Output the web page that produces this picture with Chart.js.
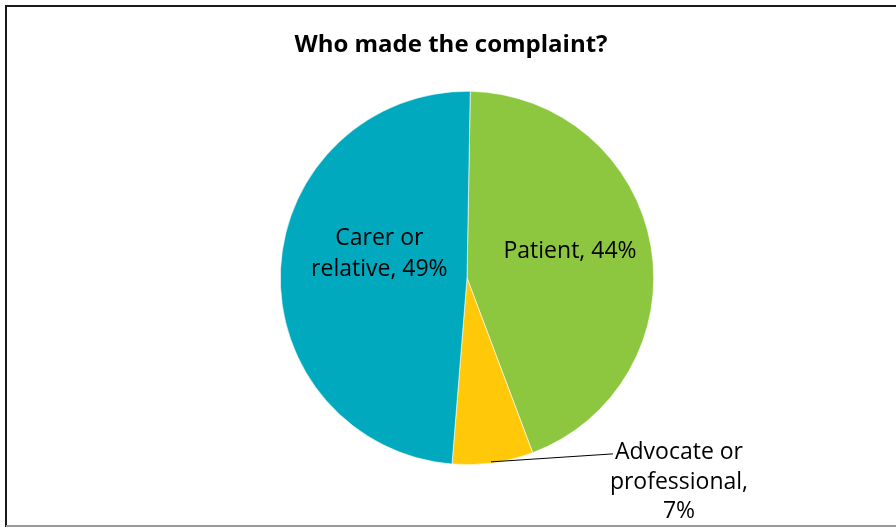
<!DOCTYPE html>
<html>
<head>
<meta charset="utf-8">
<script src="https://cdn.jsdelivr.net/npm/chart.js@4.4.0/dist/chart.umd.min.js"></script>
<style>
    html, body { margin: 0; padding: 0; background: #ffffff; }
    #wrap { width: 896px; height: 528px; position: relative; }
</style>
</head>
<body>
<div id="wrap"><canvas id="graficoQuejas"></canvas></div>
<script>
const categorias = ['Patient', 'Advocate or professional', 'Carer or relative'];
const porcentajes = [44, 7, 49];
const colores = ['#8DC63F', '#FFC808', '#00A9BD'];
const titulo = 'Who made the complaint?';

// Marco y título dibujados a mano
const marcoPlugin = {
    id: 'marco',
    beforeDraw(chart) {
        const ctx = chart.ctx;
        ctx.save();
        ctx.fillStyle = '#ffffff';
        ctx.fillRect(0, 0, chart.width, chart.height);
        ctx.strokeStyle = '#1a1a1a';
        ctx.lineWidth = 2;
        ctx.beginPath();
        ctx.moveTo(6, 527);
        ctx.lineTo(6, 6);
        ctx.lineTo(896, 6);
        ctx.stroke();
        ctx.strokeStyle = '#9a9a9a';
        ctx.lineWidth = 2;
        ctx.beginPath();
        ctx.moveTo(6, 526);
        ctx.lineTo(896, 526);
        ctx.stroke();
        ctx.fillStyle = '#000000';
        ctx.font = 'bold 24px "Open Sans", sans-serif';
        ctx.textAlign = 'center';
        ctx.textBaseline = 'middle';
        ctx.fillText(titulo, 451, 45);
        ctx.restore();
    }
};

// Etiquetas de cada porción
const etiquetasPlugin = {
    id: 'etiquetas',
    afterDatasetsDraw(chart) {
        const ctx = chart.ctx;
        const arcos = chart.getDatasetMeta(0).data;
        ctx.save();
        ctx.fillStyle = '#000000';
        ctx.font = '23px "Open Sans", sans-serif';
        ctx.textAlign = 'center';
        ctx.textBaseline = 'middle';

        arcos.forEach((arco, i) => {
            const { x, y, startAngle, endAngle, outerRadius } = arco.getProps(['x', 'y', 'startAngle', 'endAngle', 'outerRadius'], true);
            const medio = (startAngle + endAngle) / 2;
            const texto = `${porcentajes[i]}%`;
            if (i === 0) {
                const px = x + Math.cos(medio) * outerRadius * 0.56;
                const py = y + Math.sin(medio) * outerRadius * 0.56;
                ctx.fillText(`${categorias[i]}, ${texto}`, px, py - 9);
            } else if (i === 2) {
                const px = x + Math.cos(medio) * outerRadius * 0.47;
                const py = y + Math.sin(medio) * outerRadius * 0.47;
                ctx.fillText('Carer or', px, py - 35);
                ctx.fillText(`relative, ${texto}`, px, py - 4);
            } else {
                const ex = x + Math.cos(medio) * outerRadius;
                const ey = y + Math.sin(medio) * outerRadius;
                const lx = ex + 120;
                const ly = ey - 9;
                ctx.strokeStyle = '#000000';
                ctx.lineWidth = 1;
                ctx.beginPath();
                ctx.moveTo(ex - 2, ey - 1);
                ctx.lineTo(lx, ly);
                ctx.stroke();
                ctx.fillText('Advocate or', lx + 66, ly - 1);
                ctx.fillText('professional,', lx + 66, ly + 29);
                ctx.fillText(texto, lx + 66, ly + 58);
            }
        });
        ctx.restore();
    }
};

new Chart(document.getElementById('graficoQuejas'), {
    type: 'pie',
    data: {
        labels: categorias,
        datasets: [{
            data: porcentajes,
            backgroundColor: colores,
            borderColor: '#ffffff',
            borderWidth: 0.6
        }]
    },
    options: {
        responsive: true,
        maintainAspectRatio: false,
        animation: false,
        rotation: 1,
        layout: {
            padding: { left: 280, right: 242, top: 91, bottom: 63 }
        },
        plugins: {
            legend: { display: false },
            title: { display: false },
            tooltip: { enabled: false }
        }
    },
    plugins: [marcoPlugin, etiquetasPlugin]
});
</script>
</body>
</html>
